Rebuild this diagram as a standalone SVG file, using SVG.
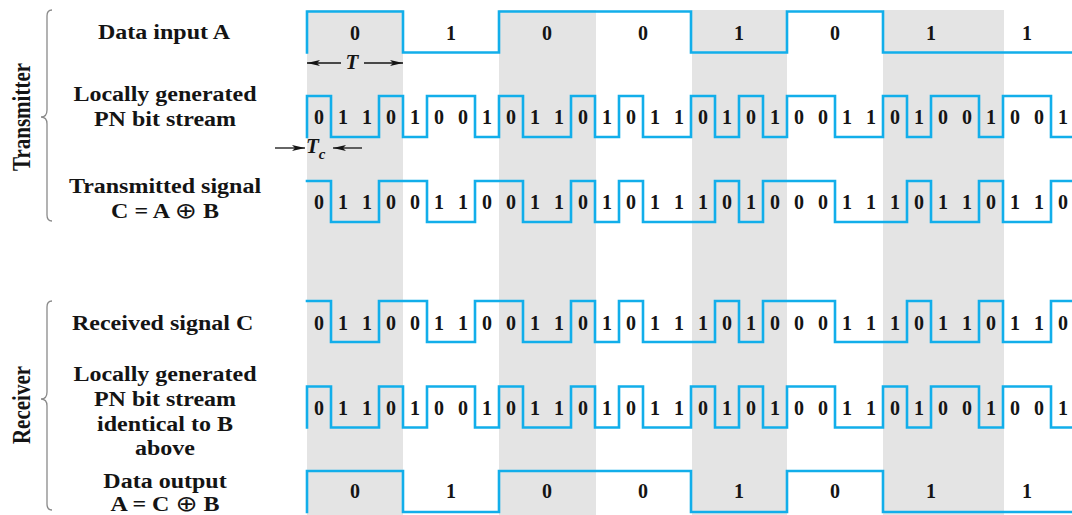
<svg xmlns="http://www.w3.org/2000/svg" xmlns:xlink="http://www.w3.org/1999/xlink" width="1072" height="515" viewBox="0 0 1072 515">
<style>
.bg{fill:#ffffff}
.shade{fill:#e4e4e4}
.wave{fill:none;stroke:#12aeea;stroke-width:2.6;stroke-linejoin:miter;stroke-linecap:square}
.lbl{font-family:"Liberation Serif","Times New Roman","DejaVu Serif",serif;font-weight:bold;font-size:20px;fill:#141414;text-anchor:middle}
.xor{font-family:"DejaVu Sans","Noto Sans",sans-serif;font-weight:normal;font-size:22px}
.dig{font-family:"Liberation Serif","Times New Roman",serif;font-weight:bold;font-size:20px;fill:#141414;text-anchor:middle}
.side{font-family:"Liberation Serif","Times New Roman",serif;font-weight:bold;font-size:21px;fill:#141414;text-anchor:middle}
.ital{font-family:"Liberation Serif","Times New Roman",serif;font-weight:bold;font-style:italic;fill:#141414}
.brace{fill:none;stroke:#8a8a8a;stroke-width:1.3}
.dim{stroke:#141414;stroke-width:1.3;fill:none}
</style>
<defs>
<marker id="ah" viewBox="0 0 13 6" refX="13" refY="3" markerWidth="13" markerHeight="6" markerUnits="userSpaceOnUse" orient="auto">
<path d="M0,0 L13,3 L0,6 L3,3 z" fill="#141414"/>
</marker>
<path id="waveA" d="M307,41 V0 H403 V41 H499 V0 H691 V41 H787 V0 H883 V41 H1075"/>
<path id="waveB" d="M307,41 V0 H331 V41 H379 V0 H403 V41 H427 V0 H475 V41 H499 V0 H523 V41 H571 V0 H595 V41 H619 V0 H643 V41 H691 V0 H715 V41 H739 V0 H763 V41 H787 V0 H835 V41 H883 V0 H907 V41 H931 V0 H979 V41 H1003 V0 H1051 V41 H1075"/>
<path id="waveC" d="M307,0 H331 V41 H379 V0 H427 V41 H475 V0 H523 V41 H571 V0 H595 V41 H619 V0 H643 V41 H715 V0 H739 V41 H763 V0 H835 V41 H907 V0 H931 V41 H979 V0 H1003 V41 H1051 V0 H1075"/>
</defs>
<rect class="bg" x="0" y="0" width="1072" height="515"/>
<g id="shading">
<rect class="shade" x="307" y="10" width="96" height="505"/>
<rect class="shade" x="499" y="10" width="97" height="505"/>
<rect class="shade" x="692" y="10" width="95" height="505"/>
<rect class="shade" x="883" y="10" width="121" height="505"/>
</g>
<g id="connectors">
<use xlink:href="#waveA" href="#waveA" class="wave" transform="translate(0,11.5)"/>
<use xlink:href="#waveB" href="#waveB" class="wave" transform="translate(0,96)"/>
<use xlink:href="#waveC" href="#waveC" class="wave" transform="translate(0,181)"/>
<use xlink:href="#waveC" href="#waveC" class="wave" transform="translate(0,301)"/>
<use xlink:href="#waveB" href="#waveB" class="wave" transform="translate(0,386.5)"/>
<use xlink:href="#waveA" href="#waveA" class="wave" transform="translate(0,471)"/>
<line class="dim" x1="341" y1="63" x2="307" y2="63" marker-end="url(#ah)"/>
<line class="dim" x1="364" y1="63" x2="403" y2="63" marker-end="url(#ah)"/>
<line class="dim" x1="275" y1="148" x2="305" y2="148" marker-end="url(#ah)"/>
<line class="dim" x1="362" y1="148" x2="333" y2="148" marker-end="url(#ah)"/>
</g>
<g id="row-data-input">
<text class="dig" x="355 451 547 643 739 835 931 1027" y="40">01001011</text>
</g>
<g id="row-pn-tx">
<text class="dig" x="319 343 367 391 415 439 463 487 511 535 559 583 607 631 655 679 703 727 751 775 799 823 847 871 895 919 943 967 991 1015 1039 1063" y="124">01101001011010110101001101001001</text>
</g>
<g id="row-tx-signal">
<text class="dig" x="319 343 367 391 415 439 463 487 511 535 559 583 607 631 655 679 703 727 751 775 799 823 847 871 895 919 943 967 991 1015 1039 1063" y="209">01100110011010111010001110110110</text>
</g>
<g id="row-rx-signal">
<text class="dig" x="319 343 367 391 415 439 463 487 511 535 559 583 607 631 655 679 703 727 751 775 799 823 847 871 895 919 943 967 991 1015 1039 1063" y="330">01100110011010111010001110110110</text>
</g>
<g id="row-pn-rx">
<text class="dig" x="319 343 367 391 415 439 463 487 511 535 559 583 607 631 655 679 703 727 751 775 799 823 847 871 895 919 943 967 991 1015 1039 1063" y="415">01101001011010110101001101001001</text>
</g>
<g id="row-data-output">
<text class="dig" x="355 451 547 643 739 835 931 1027" y="498">01001011</text>
</g>
<g id="dim-T">
<text class="ital" x="352" y="69" font-size="21" text-anchor="middle">T</text>
</g>
<g id="dim-Tc">
<text class="ital" x="306" y="153" font-size="21">T<tspan font-size="15" dy="6">c</tspan></text>
</g>
<g id="labels" transform="scale(1.2 1)">
<text class="lbl" x="136.7" y="39">Data input A</text>
<text class="lbl" x="137.5" y="101.5">Locally generated</text>
<text class="lbl" x="137.5" y="126">PN bit stream</text>
<text class="lbl" x="137.5" y="193">Transmitted signal</text>
<text class="lbl" x="137.5" y="218">C = A <tspan class="xor">⊕</tspan> B</text>
<text class="lbl" x="135.5" y="330">Received signal C</text>
<text class="lbl" x="137.5" y="381.5">Locally generated</text>
<text class="lbl" x="137.5" y="406">PN bit stream</text>
<text class="lbl" x="137.5" y="431">identical to B</text>
<text class="lbl" x="137.5" y="455">above</text>
<text class="lbl" x="137.5" y="488">Data output</text>
<text class="lbl" x="137.5" y="511">A = C <tspan class="xor">⊕</tspan> B</text>
</g>
<g id="transmitter">
<path class="brace" d="M52,10 Q47,10 47,16 V110 Q47,117 41,117 Q47,117 47,124 V215 Q47,221 52,221"/>
<text class="side" transform="translate(30,117) scale(1.2 1) rotate(-90)" x="0" y="0">Transmitter</text>
</g>
<g id="receiver">
<path class="brace" d="M52,301 Q47,301 47,307 V392 Q47,399 41,399 Q47,399 47,406 V504 Q47,510 52,510"/>
<text class="side" transform="translate(30,405) scale(1.2 1) rotate(-90)" x="0" y="0">Receiver</text>
</g>
</svg>
